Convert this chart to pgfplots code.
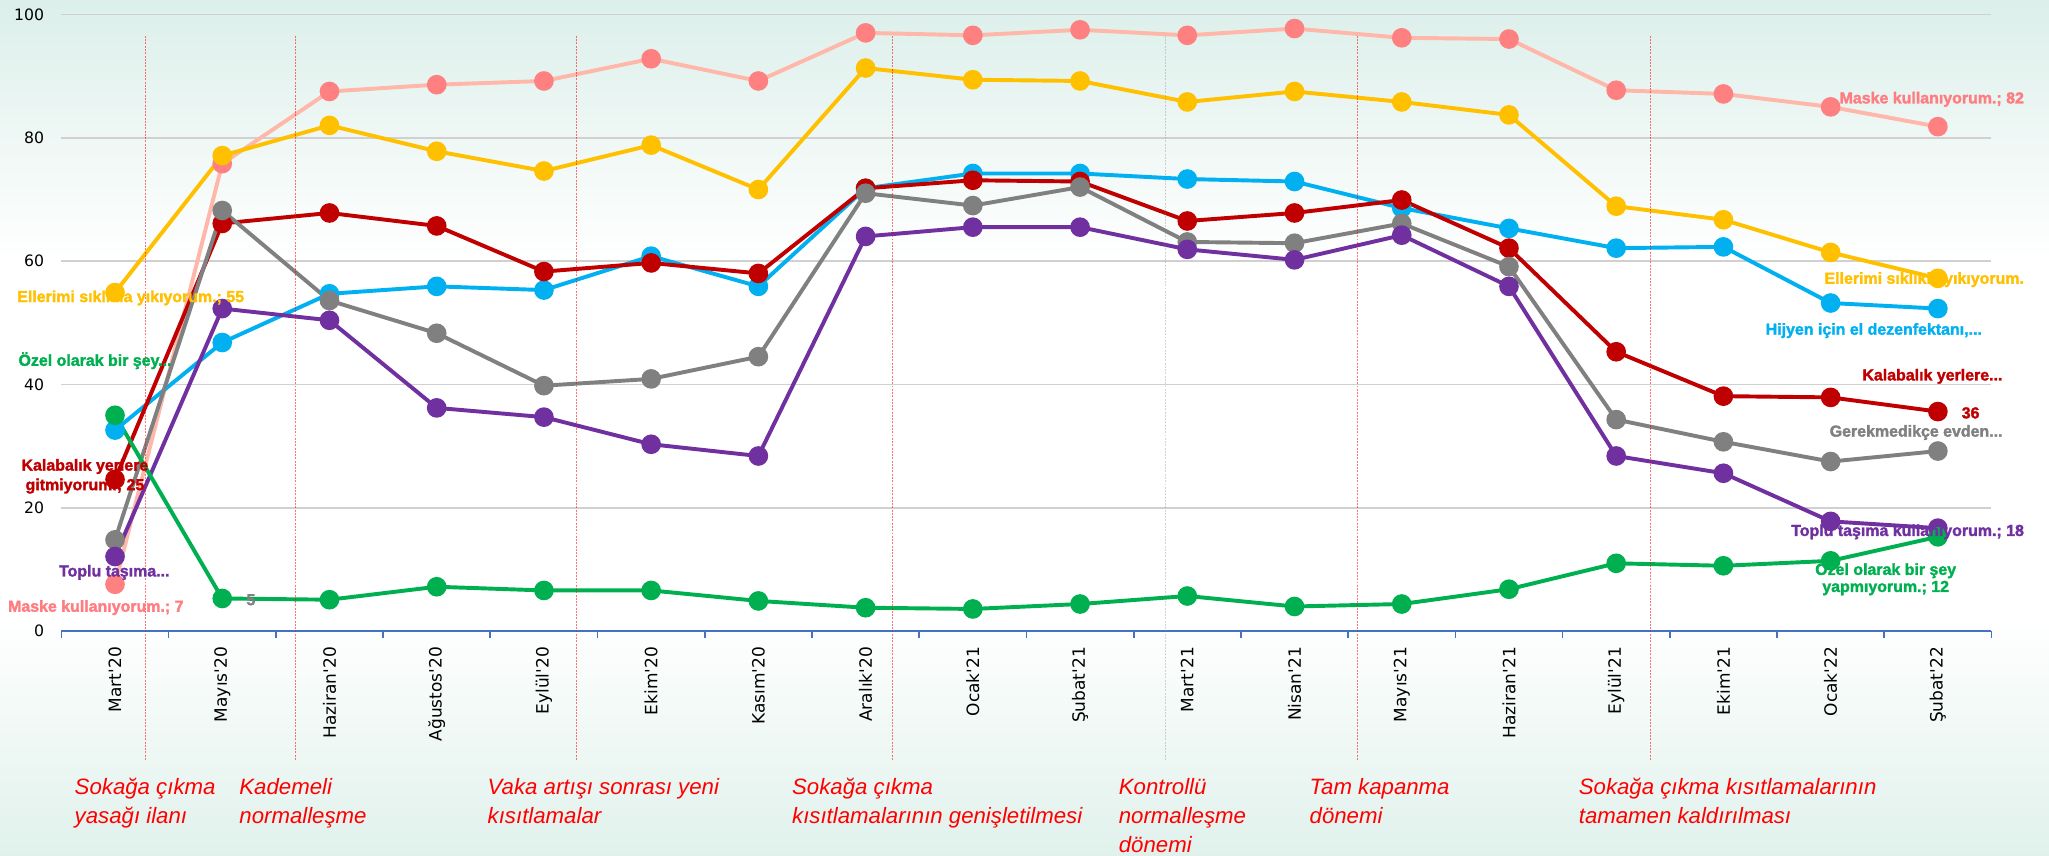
\documentclass[border=0pt]{standalone}
\usepackage{fontspec}
\setmainfont{DejaVu Sans}
\usepackage{pgfplots}
\pgfplotsset{compat=1.18}
\newfontfamily\lblfont[FakeBold=1.8]{Liberation Sans}
\newfontfamily\annfont{Liberation Sans}
\newfontfamily\tickfont{DejaVu Sans}
\definecolor{cMaskeL}{HTML}{FFB7AA}
\definecolor{cMaskeM}{HTML}{FF8080}
\definecolor{cMaskeT}{HTML}{FF7C80}
\definecolor{cYel}{HTML}{FFC000}
\definecolor{cBlue}{HTML}{00B0F0}
\definecolor{cRed}{HTML}{C00000}
\definecolor{cGray}{HTML}{808080}
\definecolor{cPur}{HTML}{7030A0}
\definecolor{cGrn}{HTML}{00B050}
\definecolor{axisblue}{HTML}{4472C4}
\definecolor{gridc}{HTML}{D0D0D0}
\definecolor{bgT}{HTML}{DCEFEA}
\definecolor{bgB}{HTML}{E0F1EC}
\newcommand{\lblsize}{\lblfont\bfseries\fontsize{12.2}{14}\selectfont}
\newcommand{\lbl}[5]{\node[anchor=#1, inner sep=0pt, text=#2, font=\lblsize] at (#3pt, 655pt-#4pt) {#5};}
\newcommand{\ann}[3]{\node[anchor=base west, inner sep=0pt, text=red, font=\annfont\itshape\fontsize{17}{20}\selectfont] at (#1pt, 655pt-#2pt) {#3};}
\tikzset{vline/.style={red, opacity=0.55, line width=0.8pt, dash pattern=on 1.5pt off 1pt}}
\begin{document}
\begin{tikzpicture}
\useasboundingbox (0,0) rectangle (1568pt,655pt);
\fill[white] (0,0) rectangle (1568pt,655pt);
\shade[top color=bgT, bottom color=white] (0,455pt) rectangle (1568pt,655pt);
\shade[top color=white, bottom color=bgB] (0,0) rectangle (1568pt,180pt);
\begin{axis}[
  at={(47pt,172pt)}, anchor=south west,
  scale only axis, width=1477pt, height=472pt,
  xmin=-0.5, xmax=17.5, ymin=0, ymax=100,
  axis x line*=bottom, axis y line*=left,
  y axis line style={draw=none},
  x axis line style={draw=axisblue, line width=1.3pt},
  xtick={0,...,17},
  xticklabels={Mart'20,Mayıs'20,Haziran'20,Ağustos'20,Eylül'20,Ekim'20,Kasım'20,Aralık'20,Ocak'21,Şubat'21,Mart'21,Nisan'21,Mayıs'21,Haziran'21,Eylül'21,Ekim'21,Ocak'22,Şubat'22},
  minor xtick={-0.5,0.5,...,17.5},
  ytick={0,20,...,100},
  ymajorgrids, grid style={draw=gridc, line width=1.3pt},
  tick align=outside,
  major tick length=0pt, minor tick length=5pt,
  minor tick style={draw=axisblue, line width=1.3pt},
  ytick style={draw=none},
  xticklabel style={rotate=90, anchor=east, inner sep=0pt, font=\tickfont\fontsize{13}{15}\selectfont},
  xticklabel shift=12pt,
  yticklabel style={anchor=east, inner sep=0pt, font=\tickfont\fontsize{12}{14}\selectfont},
  yticklabel shift=13pt,
  /pgf/number format/assume math mode=true,
  clip=false,
  every axis plot/.append style={line width=3pt, mark=*, mark size=6pt},
]
\addplot[color=cMaskeL, mark options={fill=cMaskeM, draw=cMaskeM}] coordinates {
(0,7.6)(1,75.8)(2,87.5)(3,88.6)(4,89.2)(5,92.8)(6,89.2)(7,97.0)(8,96.6)(9,97.5)(10,96.6)(11,97.7)(12,96.2)(13,96.0)(14,87.7)(15,87.1)(16,85.0)(17,81.8)};
\addplot[color=cYel, mark options={fill=cYel, draw=cYel}] coordinates {
(0,54.9)(1,77.1)(2,82.0)(3,77.8)(4,74.6)(5,78.8)(6,71.6)(7,91.3)(8,89.4)(9,89.2)(10,85.8)(11,87.5)(12,85.8)(13,83.7)(14,68.9)(15,66.7)(16,61.4)(17,57.2)};
\addplot[color=cBlue, mark options={fill=cBlue, draw=cBlue}] coordinates {
(0,32.6)(1,46.8)(2,54.7)(3,55.9)(4,55.3)(5,60.8)(6,55.9)(7,71.8)(8,74.2)(9,74.2)(10,73.3)(11,72.9)(12,68.6)(13,65.3)(14,62.1)(15,62.3)(16,53.2)(17,52.3)};
\addplot[color=cRed, mark options={fill=cRed, draw=cRed}] coordinates {
(0,24.6)(1,66.1)(2,67.8)(3,65.7)(4,58.3)(5,59.7)(6,58.0)(7,71.8)(8,73.1)(9,72.9)(10,66.5)(11,67.8)(12,69.9)(13,62.1)(14,45.3)(15,38.1)(16,37.9)(17,35.6)};
\addplot[color=cGray, mark options={fill=cGray, draw=cGray}] coordinates {
(0,14.8)(1,68.2)(2,53.6)(3,48.3)(4,39.8)(5,40.9)(6,44.5)(7,71.0)(8,69.0)(9,72.0)(10,63.1)(11,62.9)(12,66.1)(13,59.1)(14,34.3)(15,30.7)(16,27.5)(17,29.2)};
\addplot[color=cPur, mark options={fill=cPur, draw=cPur}] coordinates {
(0,12.1)(1,52.3)(2,50.4)(3,36.2)(4,34.7)(5,30.3)(6,28.4)(7,64.0)(8,65.5)(9,65.5)(10,61.9)(11,60.2)(12,64.2)(13,55.9)(14,28.4)(15,25.6)(16,17.8)(17,16.7)};
\addplot[color=cGrn, mark options={fill=cGrn, draw=cGrn}] coordinates {
(0,35.0)(1,5.3)(2,5.1)(3,7.2)(4,6.6)(5,6.6)(6,4.9)(7,3.8)(8,3.6)(9,4.4)(10,5.7)(11,4.0)(12,4.4)(13,6.8)(14,11.0)(15,10.6)(16,11.4)(17,15.3)};
\draw[vline] (axis cs:0.28,96.5) -- (axis cs:0.28,-21);
\draw[vline] (axis cs:1.68,96.5) -- (axis cs:1.68,-21);
\draw[vline] (axis cs:4.30,96.5) -- (axis cs:4.30,-21);
\draw[vline] (axis cs:7.25,96.5) -- (axis cs:7.25,-21);
\draw[vline] (axis cs:11.59,96.5) -- (axis cs:11.59,-21);
\draw[vline] (axis cs:14.32,96.5) -- (axis cs:14.32,-21);
\draw[vline, gray, opacity=0.35] (axis cs:9.80,96.5) -- (axis cs:9.80,-21);
\end{axis}
% data labels, left side
\lbl{west}{cYel}{13}{228}{Ellerimi sıklıkla yıkıyorum.; 55}
\lbl{west}{cGrn}{14}{276}{Özel olarak bir şey...}
\lbl{center}{cRed}{65}{357}{Kalabalık yerlere}
\lbl{center}{cRed}{65}{372}{gitmiyorum.; 25}
\lbl{west}{cPur}{45}{438}{Toplu taşıma...}
\lbl{west}{cMaskeT}{6}{465}{Maske kullanıyorum.; 7}
\lbl{center}{cGray}{192}{459}{5}
% data labels, right side
\lbl{east}{cMaskeT}{1549}{76}{Maske kullanıyorum.; 82}
\lbl{east}{cYel}{1549}{214}{Ellerimi sıklıkla yıkıyorum.}
\lbl{west}{cBlue}{1351}{253}{Hijyen için el dezenfektanı,...}
\lbl{west}{cRed}{1425}{288}{Kalabalık yerlere...}
\lbl{west}{cRed}{1501}{316}{36}
\lbl{west}{cGray}{1400}{331}{Gerekmedikçe evden...}
\lbl{east}{cPur}{1549}{407}{Toplu taşıma kullanıyorum.; 18}
\lbl{center}{cGrn}{1443}{436}{Özel olarak bir şey}
\lbl{center}{cGrn}{1443}{450}{yapmıyorum.; 12}
% annotations
\ann{57}{608}{Sokağa çıkma}
\ann{57}{630}{yasağı ilanı}
\ann{183}{608}{Kademeli}
\ann{183}{630}{normalleşme}
\ann{373}{608}{Vaka artışı sonrası yeni}
\ann{373}{630}{kısıtlamalar}
\ann{606}{608}{Sokağa çıkma}
\ann{606}{630}{kısıtlamalarının genişletilmesi}
\ann{856}{608}{Kontrollü}
\ann{856}{630}{normalleşme}
\ann{856}{652}{dönemi}
\ann{1002}{608}{Tam kapanma}
\ann{1002}{630}{dönemi}
\ann{1208}{608}{Sokağa çıkma kısıtlamalarının}
\ann{1208}{630}{tamamen kaldırılması}
\end{tikzpicture}
\end{document}
